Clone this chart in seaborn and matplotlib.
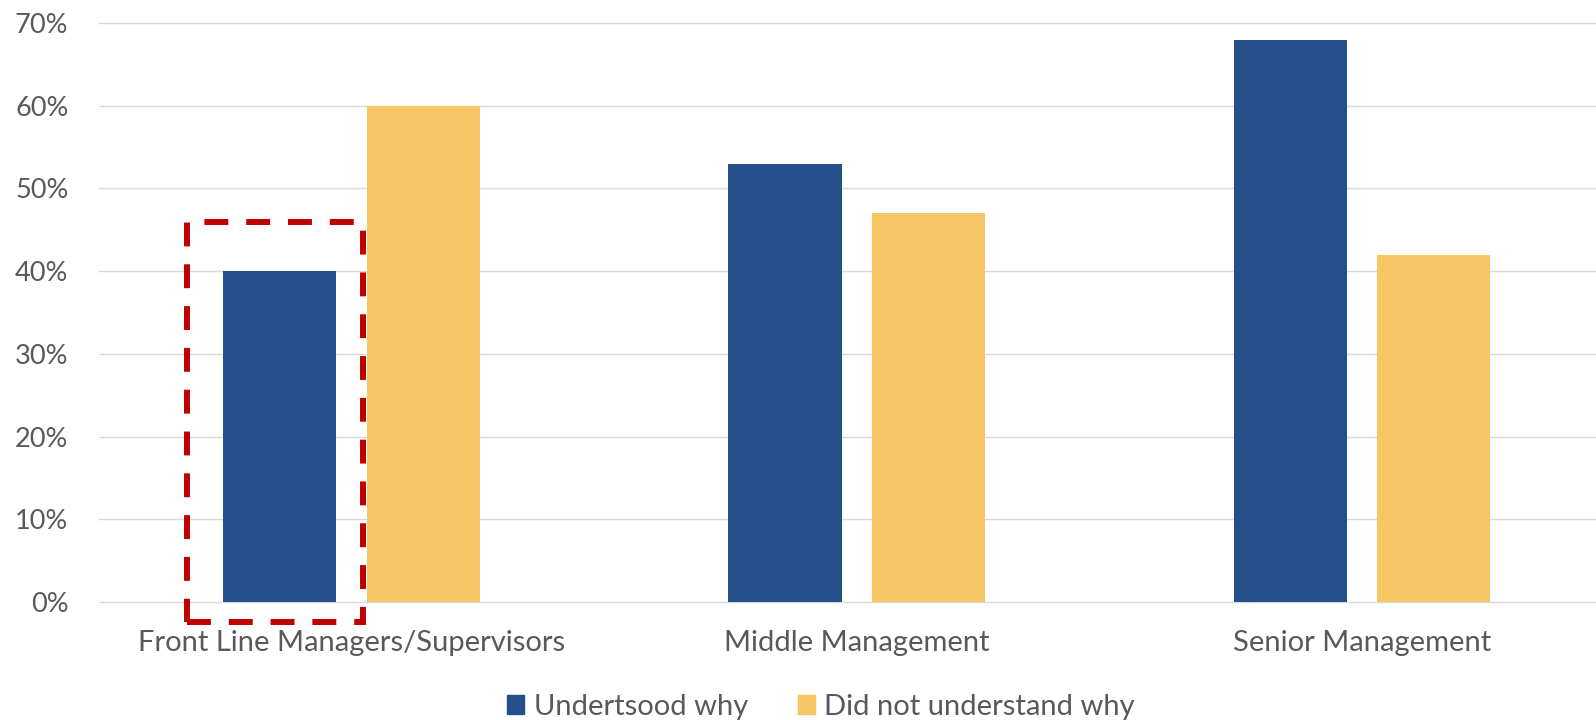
# %% MODULE BEGINS
module_name = 'plot'

'''
Description:
    Grouped bar chart: who understood why, by management level
'''

# %% IMPORTS
from matplotlib import pyplot as plt
from matplotlib.patches import Rectangle
import seaborn as sns
import pandas as pd

# %% CONSTANTS
levels = ['Front Line Managers/Supervisors', 'Middle Management', 'Senior Management']
groups = ['Undertsood why', 'Did not understand why']
understood = [40, 53, 68]
not_understood = [60, 47, 42]
y_ticks = [0, 10, 20, 30, 40, 50, 60, 70]

BLUE = '#254F8B'
YELLOW = '#F7C664'
RED = '#C00000'
GREY_TXT = '#595959'
GRID = '#D9D9D9'
FONT = 'Lato'
FSIZE_Y = 19.5
FSIZE = 21


# %% FUNCTIONS
def main():
    sns.set_style('white')
    plt.rcParams['font.family'] = [FONT, 'DejaVu Sans']

    df = pd.DataFrame({
        'level': levels * 2,
        'pct': understood + not_understood,
        'group': [groups[0]] * len(levels) + [groups[1]] * len(levels),
    })

    fig = plt.figure(figsize=(15.96, 7.2), dpi=100)
    ax = fig.add_axes([99 / 1596, 0.1582, 1 - 99 / 1596, 0.8156])

    sns.barplot(data=df, x='level', y='pct', hue='group', order=levels,
                hue_order=groups, palette=[BLUE, YELLOW], saturation=1,
                width=0.567, gap=0.21, linewidth=0, ax=ax)

    ax.set_xlim(-0.5, 2.464)
    ax.set_ylim(-0.5, 70.5)
    ax.set_yticks(y_ticks)
    ax.set_yticklabels([f'{v}%' for v in y_ticks])
    ax.set_xlabel('')
    ax.set_ylabel('')
    ax.set_axisbelow(True)
    ax.yaxis.grid(True, color=GRID, linewidth=1.0)
    ax.xaxis.grid(False)
    for s in ax.spines.values():
        s.set_visible(False)
    ax.tick_params(axis='y', length=0, pad=22, labelsize=FSIZE_Y, labelcolor=GREY_TXT)
    ax.tick_params(axis='x', length=0, pad=17, labelsize=FSIZE, labelcolor=GREY_TXT)

    # dashed highlight round the first blue bar
    bar = ax.containers[0][0]
    x0 = bar.get_x() - 0.0715
    x1 = bar.get_x() + bar.get_width() + 0.052
    y0 = -2.4
    y1 = bar.get_height() + 5.95
    box = Rectangle((x0, y0), x1 - x0, y1 - y0, fill=False, edgecolor=RED,
                    linewidth=4.3, linestyle=(0, (4, 3)), capstyle='butt',
                    clip_on=False, zorder=5)
    ax.add_patch(box)

    # legend
    ax.get_legend().remove()
    handles = [Rectangle((0, 0), 1, 1, color=BLUE), Rectangle((0, 0), 1, 1, color=YELLOW)]
    fig.legend(handles, groups, loc='center', bbox_to_anchor=(0.5144, 0.018),
               ncol=2, frameon=False, fontsize=FSIZE, labelcolor=GREY_TXT,
               handlelength=0.6, handleheight=0.6, handletextpad=0.32,
               columnspacing=1.7, borderpad=0)

    fig.savefig('out.png', dpi=100)
    plt.close(fig)


# %% SELF-RUN
if __name__ == "__main__":
    main()
